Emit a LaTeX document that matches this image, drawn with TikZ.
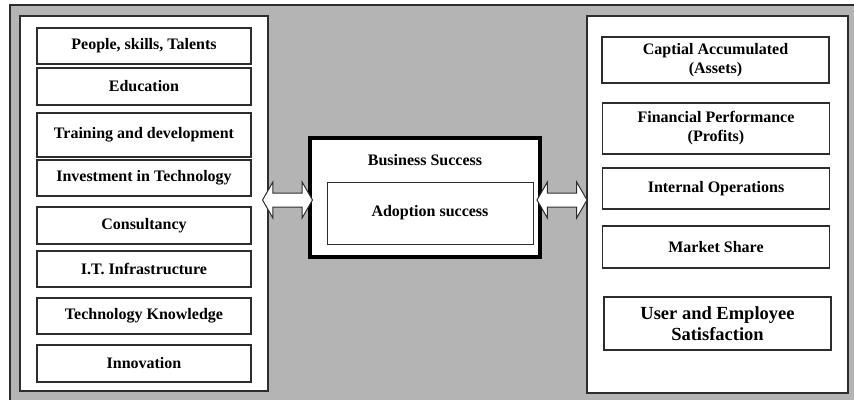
\documentclass[tikz,border=0pt]{standalone}
\usepackage{fontspec}
\setmainfont{Liberation Serif}
\usepackage{xcolor}
\usepackage{tikz}
\usetikzlibrary{shapes.geometric, shapes.arrows, positioning, calc}

\definecolor{framegray}{RGB}{180,180,180}
\definecolor{linegray}{RGB}{45,45,45}

\newcommand{\itemfont}{\fontsize{16}{19}\selectfont\bfseries}
\newcommand{\bigitemfont}{\fontsize{18.5}{21}\selectfont\bfseries}

\tikzset{
    panel/.style={rectangle, draw=linegray, line width=1.6pt, fill=white},
    item/.style={rectangle, draw=linegray, line width=1.3pt, fill=white,
        align=center, inner sep=0pt, font=\itemfont},
    leftitem/.style={item, minimum width=214pt},
    rightitem/.style={item, minimum width=227pt},
    dblarrow/.style={double arrow, draw=linegray, fill=white, line width=1pt,
        double arrow head extend=11pt, double arrow tip angle=120,
        inner xsep=0pt, inner ysep=6.5pt, minimum height=50pt}
}

\begin{document}
\begin{tikzpicture}[x=1pt, y=-1pt]
    \useasboundingbox (0,0) rectangle (854,399);
    \clip (0,0) rectangle (854,399);

    % grey background frame
    \draw[draw=linegray, line width=1.2pt, fill=framegray] (10,5) rectangle (880,420);

    % Left panel: factors
    \node[panel, minimum width=248pt, minimum height=375pt] (factors) at (144,203.5) {};
    \node[leftitem, minimum height=36pt] (people) at (144,46) {People, skills, Talents};
    \node[leftitem, minimum height=37pt] (edu) at (144,86.5) {Education};
    \node[leftitem, minimum height=44pt] (train) at (144,135) {Training and development};
    \node[leftitem, minimum height=36pt] (invest) at (144,178) {Investment in Technology};
    \node[leftitem, minimum height=37pt] (consult) at (144,225.5) {Consultancy};
    \node[leftitem, minimum height=36pt] (infra) at (144,269) {I.T. Infrastructure};
    \node[leftitem, minimum height=36pt] (know) at (144,316) {Technology Knowledge};
    \node[leftitem, minimum height=37pt] (innov) at (144,363.5) {Innovation};

    % Middle: business success
    \node[rectangle, draw=black, line width=3.5pt, fill=white,
        minimum width=230pt, minimum height=119pt] (success) at (425,197.5) {};
    \node[font=\itemfont] (succlabel) at (425,160) {Business Success};
    \node[item, line width=1pt, minimum width=206pt, minimum height=62pt] (adopt) at (430,213) {Adoption success};

    % Right panel: outcomes
    \node[panel, minimum width=261pt, minimum height=377pt] (outcomes) at (717.5,204.5) {};
    \node[rightitem, minimum height=46pt] (capital) at (715.5,60) {Captial Accumulated\\(Assets)};
    \node[rightitem, minimum height=51pt] (finance) at (716,128.5) {Financial Performance\\(Profits)};
    \node[rightitem, minimum height=41pt] (intops) at (716,188.5) {Internal Operations};
    \node[rightitem, minimum height=42pt] (market) at (716,247) {Market Share};
    \node[rightitem, minimum height=53pt, font=\bigitemfont] (users) at (717.5,323.5) {User and Employee\\Satisfaction};

    % two-way arrows
    \node[dblarrow] (arrL) at (287.5,200) {};
    \node[dblarrow] (arrR) at (562,200) {};
\end{tikzpicture}
\end{document}
